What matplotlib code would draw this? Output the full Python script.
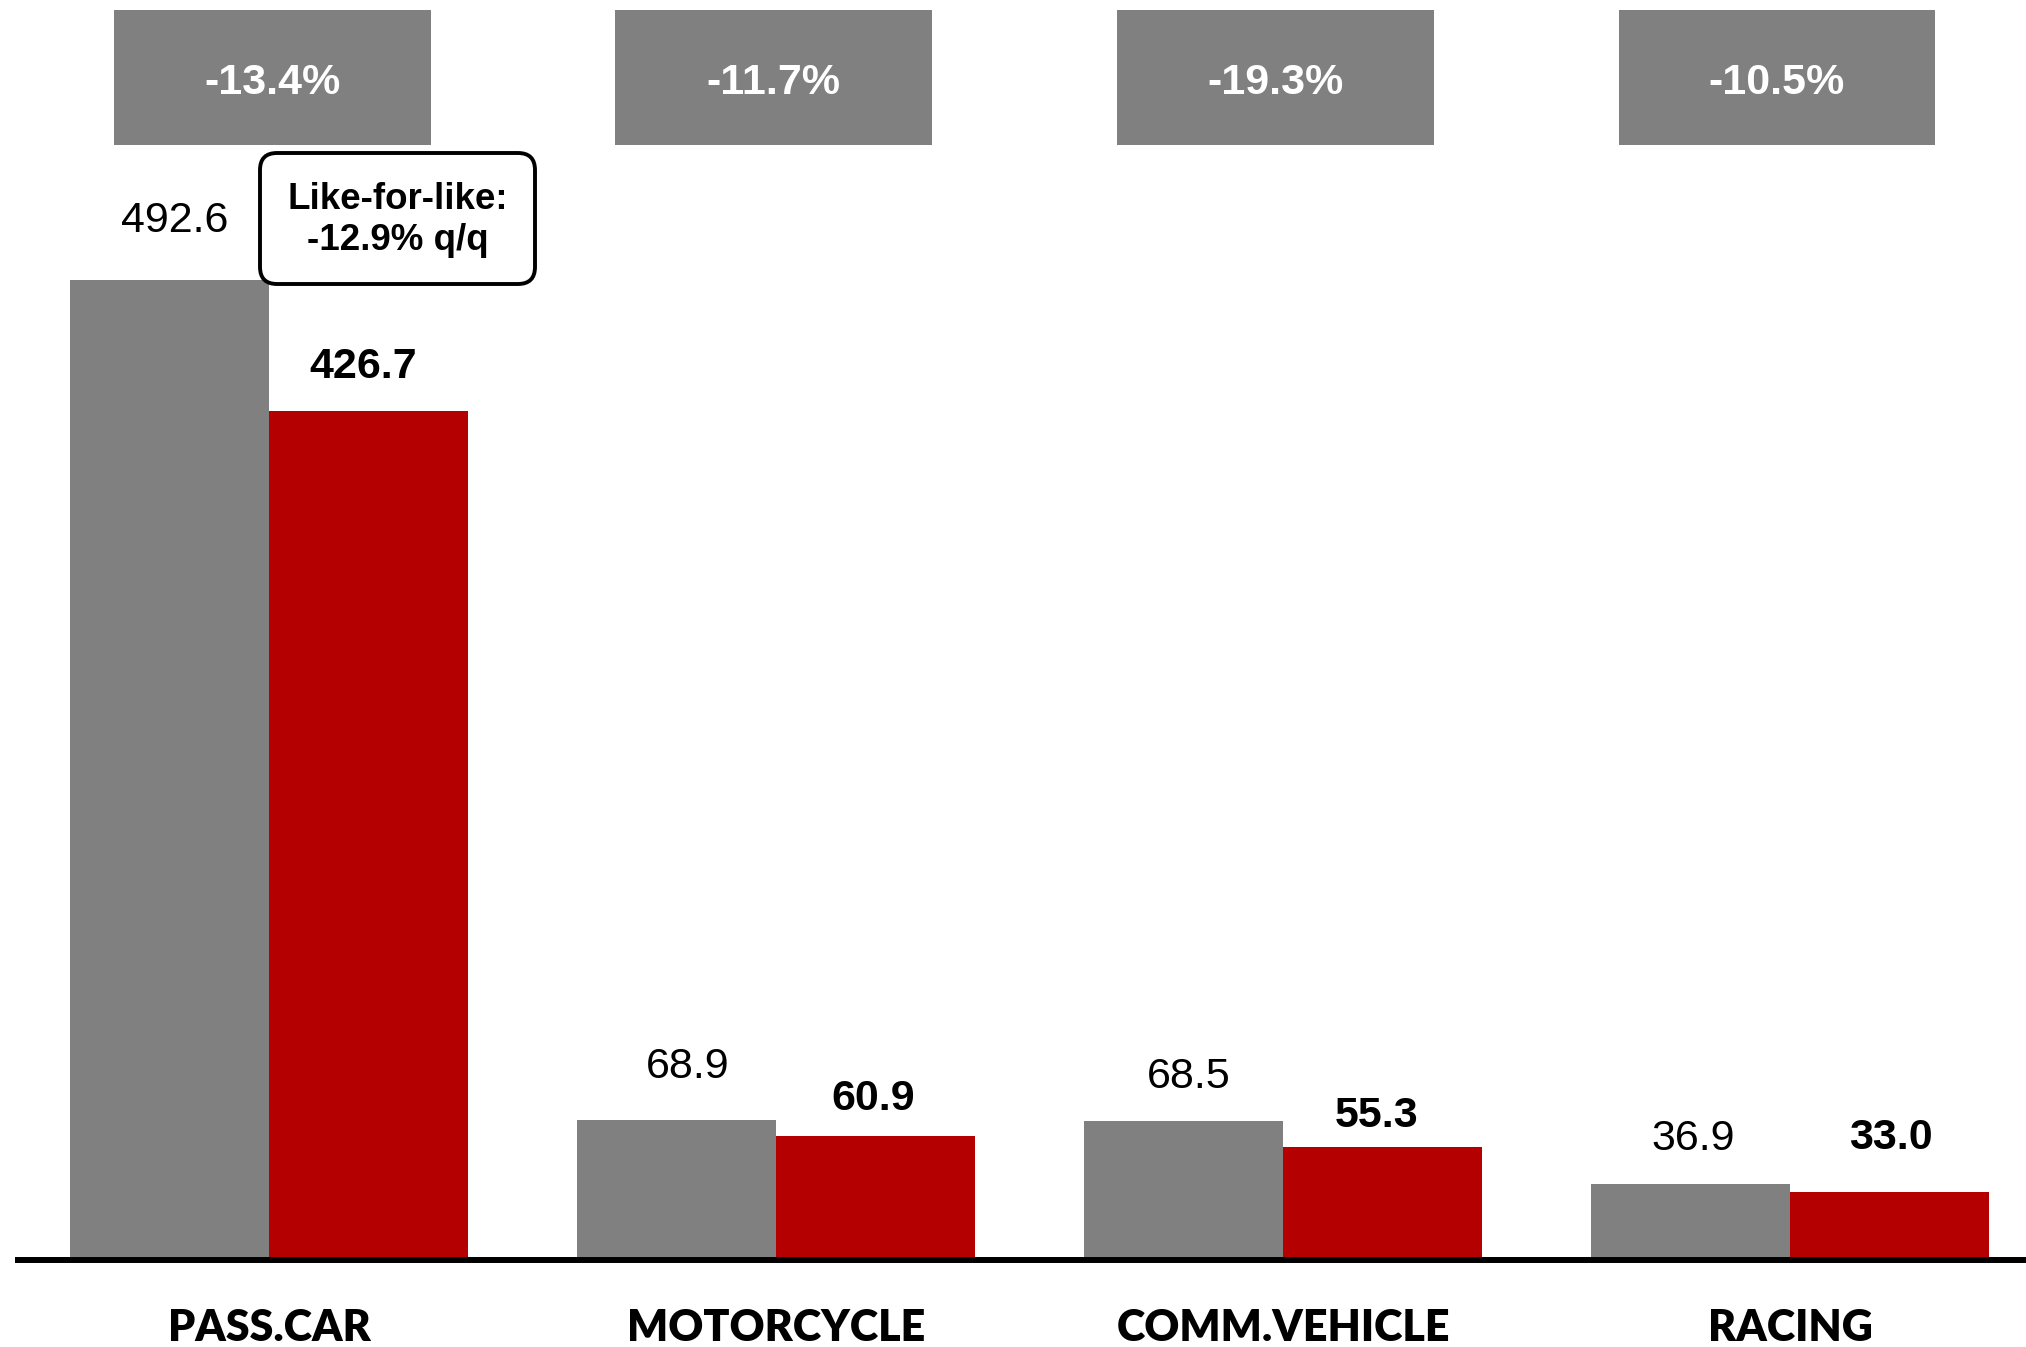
import matplotlib
matplotlib.use("Agg")
import matplotlib.pyplot as plt
import numpy as np
from matplotlib.patches import Rectangle, FancyBboxPatch
import matplotlib.transforms as mtransforms

categories = ["PASS.CAR", "MOTORCYCLE", "COMM.VEHICLE", "RACING"]
prev_values = [492.6, 68.9, 68.5, 36.9]
curr_values = [426.7, 60.9, 55.3, 33.0]
changes = ["-13.4%", "-11.7%", "-19.3%", "-10.5%"]
note_text = "Like-for-like:\n-12.9% q/q"

GREY = "#808080"
RED = "#B40000"
NUM_FONT = ["Liberation Sans", "DejaVu Sans"]
CAT_FONT = ["Lato", "DejaVu Sans"]

# label offsets relative to bar tops (points), purely stylistic
prev_off = [(3.5, 42.5), (8.0, 38.5), (3.5, 31.5), (1.5, 32.5)]
curr_off = [(-3.5, 31.5), (-1.8, 26.5), (-4.2, 22.5), (0.8, 38.5)]

W, H = 2026, 1347
fig = plt.figure(figsize=(W / 100, H / 100), dpi=100)
ax = fig.add_axes([15 / W, 0, (W - 15) / W, 1])
ax.set_xlim(-0.501, 3.465)
ax.set_ylim(-45.4, 633.8)
ax.axis("off")

x = np.arange(len(categories))
bw = 0.3925
b1 = ax.bar(x - bw / 2, prev_values, bw, color=GREY, zorder=3)
b2 = ax.bar(x + bw / 2, curr_values, bw, color=RED, zorder=3)
ax.axhline(-1.5, color="black", lw=4.3, zorder=4)

trans = mtransforms.blended_transform_factory(ax.transData, ax.transAxes)
box_x = x * 0.9893 + 0.006
bx_w = 0.625
for i in range(len(categories)):
    ax.annotate(f"{prev_values[i]:.1f}", xy=(x[i] - bw / 2, prev_values[i]),
                xytext=prev_off[i], textcoords="offset points",
                ha="center", va="center", fontsize=31, family=NUM_FONT, color="black")
    ax.annotate(f"{curr_values[i]:.1f}", xy=(x[i] + bw / 2, curr_values[i]),
                xytext=curr_off[i], textcoords="offset points",
                ha="center", va="center", fontsize=31, family=NUM_FONT,
                fontweight="bold", color="black")
    ax.annotate(categories[i], xy=(x[i], 0), xytext=(0, -51), textcoords="offset points",
                ha="center", va="center", fontsize=31, family=CAT_FONT,
                fontweight="heavy", color="black")
    # change box at top
    ax.add_patch(Rectangle((box_x[i] - bx_w / 2, 1 - 145 / H), bx_w, (145 - 10) / H,
                           transform=trans, facecolor=GREY, edgecolor="none", zorder=2))
    ax.text(box_x[i], 1 - 83 / H, changes[i], transform=trans, ha="center", va="center",
            fontsize=31, family=NUM_FONT, fontweight="bold", color="white", zorder=5)

# like-for-like note box
box = FancyBboxPatch((2.60 + 0.17, (H - 284) / 100 + 0.17), 5.35 - 2.60 - 0.34, (284 - 153) / 100 - 0.34,
                     boxstyle="round,pad=0.17", transform=fig.dpi_scale_trans,
                     facecolor="white", edgecolor="black", linewidth=2.8, zorder=6)
fig.patches.append(box)
fig.text(3.975 / (W / 100), (H - 220) / H, note_text, ha="center", va="center",
         fontsize=26.5, family=NUM_FONT, fontweight="bold", linespacing=1.25, zorder=7)

fig.savefig("out.png", dpi=100)
